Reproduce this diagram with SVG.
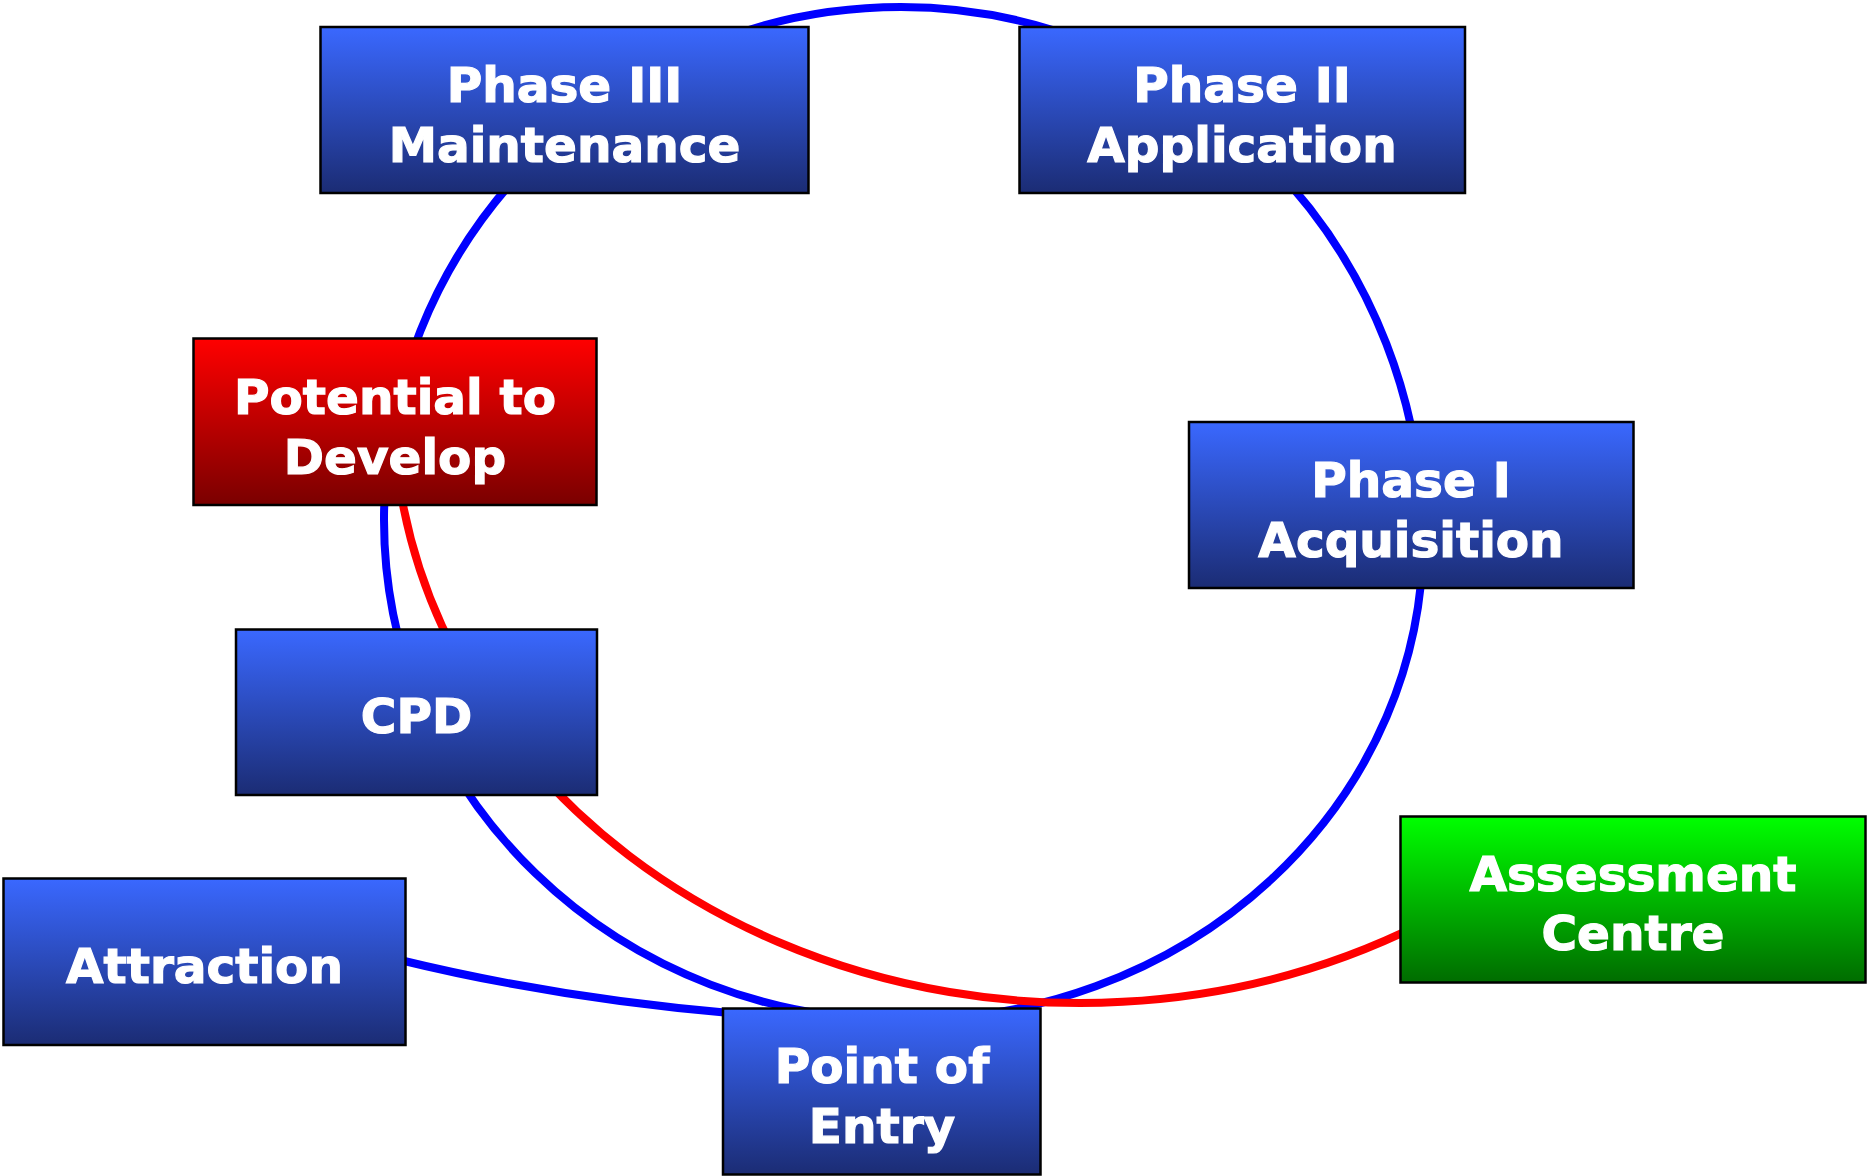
<svg xmlns="http://www.w3.org/2000/svg" width="1867" height="1176" viewBox="0 0 1867 1176">
<defs>
<linearGradient id="gBlue" x1="0" y1="0" x2="0" y2="1">
<stop offset="0" stop-color="#3A68FF"/>
<stop offset="1" stop-color="#1B2C74"/>
</linearGradient>
<linearGradient id="gRed" x1="0" y1="0" x2="0" y2="1">
<stop offset="0" stop-color="#FF0000"/>
<stop offset="1" stop-color="#7A0000"/>
</linearGradient>
<linearGradient id="gGreen" x1="0" y1="0" x2="0" y2="1">
<stop offset="0" stop-color="#00FF00"/>
<stop offset="1" stop-color="#006C00"/>
</linearGradient>
</defs>
<style>
.box{stroke:#000;stroke-width:2.5}
.blue{fill:url(#gBlue)}
.red{fill:url(#gRed)}
.green{fill:url(#gGreen)}
.lbl{font-family:"DejaVu Sans","Verdana",sans-serif;font-weight:bold;font-size:48.5px;fill:#fff;stroke:#fff;stroke-width:1.2;text-anchor:middle}
.cb{fill:none;stroke:#0000FF;stroke-width:8}
.cr{fill:none;stroke:#FF0000;stroke-width:8}
</style>
<rect width="1867" height="1176" fill="#fff"/>
<g id="connectors">
<path class="cb" d="M 901 7 A 522 533 0 0 1 1423 540 A 518 480 0 0 1 905 1020 L 901 1020 A 518 500 0 0 1 384 520 A 517 513 0 0 1 901 7 Z"/>
<path class="cb" d="M 400 960 Q 560 999 740 1014"/>
<path class="cr" d="M 400.3 490 A 687 600 0 0 0 1420 924.4"/>
</g>
<g id="phase3">
<rect class="box blue" x="320.5" y="27" width="488" height="166"/>
<text class="lbl" x="564.5" y="102">Phase III</text>
<text class="lbl" x="564.5" y="162">Maintenance</text>
</g>
<g id="phase2">
<rect class="box blue" x="1019.5" y="27" width="445.5" height="166"/>
<text class="lbl" x="1242" y="102">Phase II</text>
<text class="lbl" x="1242" y="162">Application</text>
</g>
<g id="potential">
<rect class="box red" x="193.5" y="338.5" width="403" height="166.5"/>
<text class="lbl" x="395" y="414">Potential to</text>
<text class="lbl" x="395" y="474">Develop</text>
</g>
<g id="phase1">
<rect class="box blue" x="1189" y="422" width="444.5" height="166"/>
<text class="lbl" x="1411" y="497">Phase I</text>
<text class="lbl" x="1411" y="557">Acquisition</text>
</g>
<g id="cpd">
<rect class="box blue" x="236" y="629.5" width="361" height="165.5"/>
<text class="lbl" x="416.5" y="733">CPD</text>
</g>
<g id="assessment">
<rect class="box green" x="1400.5" y="816.5" width="465" height="166"/>
<text class="lbl" x="1633" y="891">Assessment</text>
<text class="lbl" x="1633" y="950">Centre</text>
</g>
<g id="attraction">
<rect class="box blue" x="3.5" y="878.5" width="402" height="166.5"/>
<text class="lbl" x="204.5" y="983">Attraction</text>
</g>
<g id="entry">
<rect class="box blue" x="723" y="1008.5" width="317.5" height="166"/>
<text class="lbl" x="882" y="1083">Point of</text>
<text class="lbl" x="882" y="1143">Entry</text>
</g>
</svg>
